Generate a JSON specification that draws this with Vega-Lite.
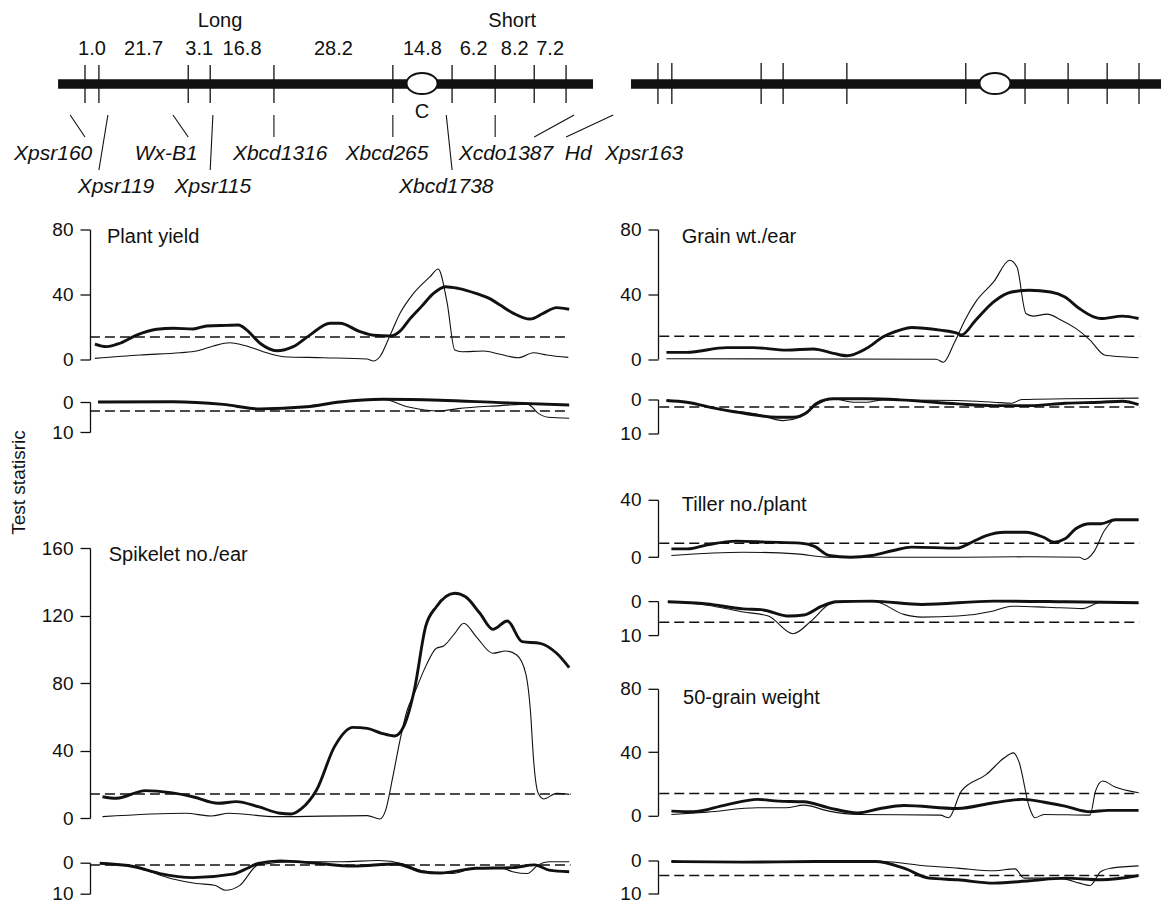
{
  "$schema": "https://vega.github.io/schema/vega-lite/v6.json",
  "background": "white",
  "padding": 0,
  "config": {
    "view": {"stroke": null},
    "font": "Liberation Sans",
    "axis": {"domainColor": "#111", "tickColor": "#111", "domainWidth": 1.3, "tickWidth": 1.3, "tickSize": 10, "labelPadding": 7, "labelFontSize": 19, "labelColor": "#111", "labelFont": "Liberation Sans", "grid": false, "labelOverlap": false, "labelBound": false},
    "text": {"font": "Liberation Sans", "color": "#111"}
  },
  "datasets": {
    "chromosome": [{"start": -6.0, "end": 113.2, "centromere": 75.1}],
    "markers": [
      {"marker": "Xpsr160", "pos": 0, "tier": 1, "label_pos": -7.1, "link": -3.3},
      {"marker": "Xpsr119", "pos": 3.1, "tier": 2, "label_pos": 6.9, "link": 5.1},
      {"marker": "Wx-B1", "pos": 23.0, "tier": 1, "label_pos": 18.1, "link": 19.6},
      {"marker": "Xpsr115", "pos": 27.9, "tier": 2, "label_pos": 28.5, "link": 28.5},
      {"marker": "Xbcd1316", "pos": 42.1, "tier": 1, "label_pos": 43.5, "link": 42.1},
      {"marker": "Xbcd265", "pos": 68.6, "tier": 1, "label_pos": 67.3, "link": 68.6},
      {"marker": "Xbcd1738", "pos": 81.8, "tier": 2, "label_pos": 80.5, "link": 80.5},
      {"marker": "Xcdo1387", "pos": 91.4, "tier": 1, "label_pos": 93.8, "link": 91.4},
      {"marker": "Hd", "pos": 100.1, "tier": 1, "label_pos": 109.9, "link": 109.0},
      {"marker": "Xpsr163", "pos": 107.2, "tier": 1, "label_pos": 124.6, "link": 117.7}
    ],
    "intervals": [
      {"cM": "1.0", "from": 0, "to": 3.1},
      {"cM": "21.7", "from": 3.1, "to": 23.0},
      {"cM": "3.1", "from": 23.0, "to": 27.9},
      {"cM": "16.8", "from": 27.9, "to": 42.1},
      {"cM": "28.2", "from": 42.1, "to": 68.6},
      {"cM": "14.8", "from": 68.6, "to": 81.8},
      {"cM": "6.2", "from": 81.8, "to": 91.4},
      {"cM": "8.2", "from": 91.4, "to": 100.1},
      {"cM": "7.2", "from": 100.1, "to": 107.2}
    ],
    "arms": [{"arm": "Long", "center": 30.1}, {"arm": "Short", "center": 95.2}],
    "thresholds": [
      {"panel": "plant_yield_upper", "stat": 13.8, "from": 1.1, "to": 107.9},
      {"panel": "plant_yield_lower", "stat": 3.0, "from": 1.1, "to": 107.9},
      {"panel": "spikelet_upper", "stat": 14.2, "from": 1.1, "to": 108.2},
      {"panel": "spikelet_lower", "stat": 0.75, "from": 1.1, "to": 108.2},
      {"panel": "grain_wt_upper", "stat": 14.0, "from": 0.3, "to": 107.3},
      {"panel": "grain_wt_lower", "stat": 2.2, "from": 0.3, "to": 107.3},
      {"panel": "tiller_upper", "stat": 9.8, "from": 0.3, "to": 107.3},
      {"panel": "tiller_lower", "stat": 6.2, "from": 0.3, "to": 107.3},
      {"panel": "grain50_upper", "stat": 13.9, "from": 0.3, "to": 107.3},
      {"panel": "grain50_lower", "stat": 4.5, "from": 0.3, "to": 107.3}
    ],
    "plant_yield_upper": [
      {"curve": "A", "pos": 2.2, "stat": 9.5}, {"curve": "A", "pos": 4.8, "stat": 7.9}, {"curve": "A", "pos": 7.8, "stat": 10}, {"curve": "A", "pos": 11.5, "stat": 15}, {"curve": "A", "pos": 16.0, "stat": 18.6}, {"curve": "A", "pos": 19.7, "stat": 19.2}, {"curve": "A", "pos": 24.1, "stat": 18.8}, {"curve": "A", "pos": 27.1, "stat": 20.6}, {"curve": "A", "pos": 31.6, "stat": 21}, {"curve": "A", "pos": 34.2, "stat": 21.2}, {"curve": "A", "pos": 36.0, "stat": 18.2}, {"curve": "A", "pos": 39.0, "stat": 10}, {"curve": "A", "pos": 42.7, "stat": 5.4}, {"curve": "A", "pos": 46.4, "stat": 7.9}, {"curve": "A", "pos": 50.1, "stat": 15}, {"curve": "A", "pos": 54.6, "stat": 22.3}, {"curve": "A", "pos": 56.8, "stat": 22.3}, {"curve": "A", "pos": 61.3, "stat": 17.1}, {"curve": "A", "pos": 64.3, "stat": 14.9}, {"curve": "A", "pos": 68.0, "stat": 14.5}, {"curve": "A", "pos": 70.2, "stat": 17.5}, {"curve": "A", "pos": 72.4, "stat": 25}, {"curve": "A", "pos": 75.1, "stat": 33}, {"curve": "A", "pos": 77.6, "stat": 40.5}, {"curve": "A", "pos": 80.3, "stat": 44.8}, {"curve": "A", "pos": 83.1, "stat": 43.8}, {"curve": "A", "pos": 87.1, "stat": 40.7}, {"curve": "A", "pos": 90.5, "stat": 37}, {"curve": "A", "pos": 92.5, "stat": 33.5}, {"curve": "A", "pos": 95.5, "stat": 28.4}, {"curve": "A", "pos": 99.2, "stat": 24.9}, {"curve": "A", "pos": 102.1, "stat": 28.4}, {"curve": "A", "pos": 105.1, "stat": 31.9}, {"curve": "A", "pos": 107.9, "stat": 30.9},
      {"curve": "B", "pos": 2.2, "stat": 0.7}, {"curve": "B", "pos": 12.3, "stat": 2.8}, {"curve": "B", "pos": 21.2, "stat": 4.2}, {"curve": "B", "pos": 24.9, "stat": 5.2}, {"curve": "B", "pos": 28.6, "stat": 8.3}, {"curve": "B", "pos": 32.3, "stat": 10.3}, {"curve": "B", "pos": 36.0, "stat": 8.3}, {"curve": "B", "pos": 39.7, "stat": 4.8}, {"curve": "B", "pos": 44.2, "stat": 1.7}, {"curve": "B", "pos": 53.1, "stat": 1.1}, {"curve": "B", "pos": 62.8, "stat": 0.3}, {"curve": "B", "pos": 64.3, "stat": -0.9}, {"curve": "B", "pos": 65.7, "stat": 1.7}, {"curve": "B", "pos": 68.0, "stat": 15}, {"curve": "B", "pos": 70.2, "stat": 28.4}, {"curve": "B", "pos": 73.2, "stat": 40.7}, {"curve": "B", "pos": 76.9, "stat": 51}, {"curve": "B", "pos": 78.7, "stat": 55.7}, {"curve": "B", "pos": 80.7, "stat": 34.8}, {"curve": "B", "pos": 82.4, "stat": 5.8}, {"curve": "B", "pos": 84.0, "stat": 4.8}, {"curve": "B", "pos": 88.8, "stat": 5.2}, {"curve": "B", "pos": 92.5, "stat": 3.2}, {"curve": "B", "pos": 96.6, "stat": 1.1}, {"curve": "B", "pos": 99.9, "stat": 4.2}, {"curve": "B", "pos": 102.9, "stat": 2.8}, {"curve": "B", "pos": 107.7, "stat": 1.3}
    ],
    "plant_yield_lower": [
      {"curve": "A", "pos": 2.9, "stat": 0}, {"curve": "A", "pos": 19.6, "stat": -0.1}, {"curve": "A", "pos": 30.8, "stat": 0.8}, {"curve": "A", "pos": 39.0, "stat": 2.3}, {"curve": "A", "pos": 49.4, "stat": 1.6}, {"curve": "A", "pos": 56.8, "stat": 0}, {"curve": "A", "pos": 66.4, "stat": -0.9}, {"curve": "A", "pos": 79.1, "stat": -0.6}, {"curve": "A", "pos": 92.5, "stat": 0.2}, {"curve": "A", "pos": 107.9, "stat": 1.0},
      {"curve": "B", "pos": 2.9, "stat": 0}, {"curve": "B", "pos": 19.6, "stat": 0}, {"curve": "B", "pos": 30.8, "stat": 0.8}, {"curve": "B", "pos": 39.0, "stat": 2.3}, {"curve": "B", "pos": 49.4, "stat": 1.6}, {"curve": "B", "pos": 56.8, "stat": 0}, {"curve": "B", "pos": 66.4, "stat": -0.9}, {"curve": "B", "pos": 71.8, "stat": 1.6}, {"curve": "B", "pos": 79.1, "stat": 3.0}, {"curve": "B", "pos": 83.1, "stat": 2.2}, {"curve": "B", "pos": 92.5, "stat": 1.2}, {"curve": "B", "pos": 96.9, "stat": 0.8}, {"curve": "B", "pos": 98.7, "stat": 0.8}, {"curve": "B", "pos": 101.0, "stat": 3.8}, {"curve": "B", "pos": 103.2, "stat": 5.1}, {"curve": "B", "pos": 107.9, "stat": 5.4}
    ],
    "spikelet_upper": [
      {"curve": "A", "pos": 3.9, "stat": 12.6}, {"curve": "A", "pos": 7.0, "stat": 11.7}, {"curve": "A", "pos": 13.5, "stat": 16.2}, {"curve": "A", "pos": 19.1, "stat": 15}, {"curve": "A", "pos": 24.0, "stat": 12.6}, {"curve": "A", "pos": 29.7, "stat": 8.7}, {"curve": "A", "pos": 33.7, "stat": 9.7}, {"curve": "A", "pos": 38.6, "stat": 6.7}, {"curve": "A", "pos": 43.5, "stat": 2.8}, {"curve": "A", "pos": 45.9, "stat": 2.4}, {"curve": "A", "pos": 48.3, "stat": 5.7}, {"curve": "A", "pos": 51.6, "stat": 16.6}, {"curve": "A", "pos": 55.6, "stat": 42.3}, {"curve": "A", "pos": 59.7, "stat": 53.7}, {"curve": "A", "pos": 62.9, "stat": 53.1}, {"curve": "A", "pos": 66.1, "stat": 50.2}, {"curve": "A", "pos": 69.0, "stat": 48.6}, {"curve": "A", "pos": 71.0, "stat": 54.1}, {"curve": "A", "pos": 73.4, "stat": 76}, {"curve": "A", "pos": 75.9, "stat": 113.4}, {"curve": "A", "pos": 78.3, "stat": 125.2}, {"curve": "A", "pos": 82.4, "stat": 133.2}, {"curve": "A", "pos": 84.8, "stat": 131.1}, {"curve": "A", "pos": 88.0, "stat": 121.3}, {"curve": "A", "pos": 90.9, "stat": 111.8}, {"curve": "A", "pos": 94.1, "stat": 116.7}, {"curve": "A", "pos": 97.4, "stat": 104.5}, {"curve": "A", "pos": 101.4, "stat": 103.5}, {"curve": "A", "pos": 105.1, "stat": 97.6}, {"curve": "A", "pos": 107.9, "stat": 89.1},
      {"curve": "B", "pos": 3.9, "stat": 0.8}, {"curve": "B", "pos": 22.4, "stat": 2.8}, {"curve": "B", "pos": 28.1, "stat": 1.2}, {"curve": "B", "pos": 32.1, "stat": 2.8}, {"curve": "B", "pos": 42.7, "stat": 0.8}, {"curve": "B", "pos": 62.9, "stat": 1.4}, {"curve": "B", "pos": 65.7, "stat": -0.6}, {"curve": "B", "pos": 67.0, "stat": 4.7}, {"curve": "B", "pos": 68.6, "stat": 24.5}, {"curve": "B", "pos": 70.2, "stat": 46.2}, {"curve": "B", "pos": 71.8, "stat": 64}, {"curve": "B", "pos": 73.4, "stat": 73.9}, {"curve": "B", "pos": 75.9, "stat": 89.7}, {"curve": "B", "pos": 78.3, "stat": 100.6}, {"curve": "B", "pos": 79.9, "stat": 101.9}, {"curve": "B", "pos": 82.4, "stat": 109.4}, {"curve": "B", "pos": 84.4, "stat": 115.4}, {"curve": "B", "pos": 87.2, "stat": 107.4}, {"curve": "B", "pos": 90.9, "stat": 97.6}, {"curve": "B", "pos": 93.7, "stat": 99}, {"curve": "B", "pos": 96.2, "stat": 96.6}, {"curve": "B", "pos": 98.2, "stat": 85.7}, {"curve": "B", "pos": 99.4, "stat": 58.1}, {"curve": "B", "pos": 99.8, "stat": 40.3}, {"curve": "B", "pos": 101.0, "stat": 14.6}, {"curve": "B", "pos": 102.2, "stat": 11.3}, {"curve": "B", "pos": 105.1, "stat": 14.6}, {"curve": "B", "pos": 107.9, "stat": 14}
    ],
    "spikelet_lower": [
      {"curve": "A", "pos": 3.3, "stat": 0.2}, {"curve": "A", "pos": 11.0, "stat": 1.3}, {"curve": "A", "pos": 16.7, "stat": 3.5}, {"curve": "A", "pos": 24.0, "stat": 4.8}, {"curve": "A", "pos": 32.9, "stat": 3.7}, {"curve": "A", "pos": 36.2, "stat": 1.8}, {"curve": "A", "pos": 38.6, "stat": 0.2}, {"curve": "A", "pos": 43.5, "stat": -0.6}, {"curve": "A", "pos": 51.6, "stat": 0.2}, {"curve": "A", "pos": 59.7, "stat": 1.1}, {"curve": "A", "pos": 69.4, "stat": 0.4}, {"curve": "A", "pos": 75.1, "stat": 2.9}, {"curve": "A", "pos": 79.1, "stat": 3.3}, {"curve": "A", "pos": 87.2, "stat": 1.8}, {"curve": "A", "pos": 95.3, "stat": 1.6}, {"curve": "A", "pos": 100.2, "stat": 0.7}, {"curve": "A", "pos": 103.4, "stat": 2.4}, {"curve": "A", "pos": 107.9, "stat": 2.9},
      {"curve": "B", "pos": 3.3, "stat": 0}, {"curve": "B", "pos": 11.0, "stat": 1.3}, {"curve": "B", "pos": 19.1, "stat": 5.1}, {"curve": "B", "pos": 24.8, "stat": 6.7}, {"curve": "B", "pos": 28.9, "stat": 7.3}, {"curve": "B", "pos": 31.3, "stat": 8.9}, {"curve": "B", "pos": 34.5, "stat": 7.3}, {"curve": "B", "pos": 38.6, "stat": 0.7}, {"curve": "B", "pos": 46.7, "stat": -0.3}, {"curve": "B", "pos": 57.2, "stat": -0.3}, {"curve": "B", "pos": 65.3, "stat": -0.7}, {"curve": "B", "pos": 71.0, "stat": 0.4}, {"curve": "B", "pos": 75.1, "stat": 2.6}, {"curve": "B", "pos": 81.5, "stat": 3.5}, {"curve": "B", "pos": 87.2, "stat": 1.8}, {"curve": "B", "pos": 92.9, "stat": 1.8}, {"curve": "B", "pos": 95.3, "stat": 2.9}, {"curve": "B", "pos": 98.6, "stat": 3.5}, {"curve": "B", "pos": 101.0, "stat": 0.7}, {"curve": "B", "pos": 103.4, "stat": -0.3}, {"curve": "B", "pos": 107.9, "stat": -0.3}
    ],
    "grain_wt_upper": [
      {"curve": "A", "pos": 1.9, "stat": 4.1}, {"curve": "A", "pos": 6.4, "stat": 4.1}, {"curve": "A", "pos": 15.3, "stat": 7.0}, {"curve": "A", "pos": 21.2, "stat": 7.0}, {"curve": "A", "pos": 28.7, "stat": 5.5}, {"curve": "A", "pos": 34.6, "stat": 6.2}, {"curve": "A", "pos": 39.1, "stat": 3.5}, {"curve": "A", "pos": 42.1, "stat": 2.0}, {"curve": "A", "pos": 46.5, "stat": 6.6}, {"curve": "A", "pos": 50.2, "stat": 13.7}, {"curve": "A", "pos": 53.9, "stat": 17.8}, {"curve": "A", "pos": 56.5, "stat": 19.5}, {"curve": "A", "pos": 62.9, "stat": 17.8}, {"curve": "A", "pos": 66.8, "stat": 15.8}, {"curve": "A", "pos": 67.6, "stat": 14.8}, {"curve": "A", "pos": 70.8, "stat": 24}, {"curve": "A", "pos": 74.8, "stat": 35.3}, {"curve": "A", "pos": 78.8, "stat": 41.4}, {"curve": "A", "pos": 82.8, "stat": 42.5}, {"curve": "A", "pos": 87.5, "stat": 41.4}, {"curve": "A", "pos": 90.7, "stat": 38.3}, {"curve": "A", "pos": 93.9, "stat": 31.2}, {"curve": "A", "pos": 97.1, "stat": 26}, {"curve": "A", "pos": 98.7, "stat": 25}, {"curve": "A", "pos": 103.5, "stat": 26.5}, {"curve": "A", "pos": 107.1, "stat": 25},
      {"curve": "B", "pos": 1.9, "stat": 0.2}, {"curve": "B", "pos": 62.0, "stat": -0.2}, {"curve": "B", "pos": 63.6, "stat": -2}, {"curve": "B", "pos": 66.0, "stat": 9.7}, {"curve": "B", "pos": 68.4, "stat": 24}, {"curve": "B", "pos": 70.8, "stat": 35.3}, {"curve": "B", "pos": 74.8, "stat": 47.6}, {"curve": "B", "pos": 78.4, "stat": 61}, {"curve": "B", "pos": 80.0, "stat": 56.8}, {"curve": "B", "pos": 82.0, "stat": 28.1}, {"curve": "B", "pos": 83.6, "stat": 26.5}, {"curve": "B", "pos": 86.7, "stat": 27.7}, {"curve": "B", "pos": 89.9, "stat": 24}, {"curve": "B", "pos": 93.1, "stat": 18.9}, {"curve": "B", "pos": 96.3, "stat": 11.7}, {"curve": "B", "pos": 99.5, "stat": 2.5}, {"curve": "B", "pos": 103.5, "stat": 1.4}, {"curve": "B", "pos": 107.1, "stat": 0.8}
    ],
    "grain_wt_lower": [
      {"curve": "A", "pos": 1.9, "stat": 0.3}, {"curve": "A", "pos": 6.4, "stat": 0.8}, {"curve": "A", "pos": 13.1, "stat": 2.7}, {"curve": "A", "pos": 19.8, "stat": 4.2}, {"curve": "A", "pos": 26.5, "stat": 5.2}, {"curve": "A", "pos": 30.2, "stat": 5.2}, {"curve": "A", "pos": 33.1, "stat": 3.9}, {"curve": "A", "pos": 35.4, "stat": 1.1}, {"curve": "A", "pos": 39.1, "stat": -0.2}, {"curve": "A", "pos": 46.5, "stat": -0.2}, {"curve": "A", "pos": 53.9, "stat": 0.1}, {"curve": "A", "pos": 66.8, "stat": 1.3}, {"curve": "A", "pos": 74.8, "stat": 1.8}, {"curve": "A", "pos": 82.8, "stat": 1.8}, {"curve": "A", "pos": 90.7, "stat": 1.1}, {"curve": "A", "pos": 98.7, "stat": 0.8}, {"curve": "A", "pos": 103.5, "stat": 0.5}, {"curve": "A", "pos": 107.1, "stat": 1.5},
      {"curve": "B", "pos": 1.9, "stat": 0.3}, {"curve": "B", "pos": 6.4, "stat": 0.8}, {"curve": "B", "pos": 13.1, "stat": 2.7}, {"curve": "B", "pos": 22.7, "stat": 4.5}, {"curve": "B", "pos": 27.9, "stat": 6.2}, {"curve": "B", "pos": 31.6, "stat": 5.2}, {"curve": "B", "pos": 34.5, "stat": 2.3}, {"curve": "B", "pos": 39.1, "stat": -0.2}, {"curve": "B", "pos": 43.5, "stat": 0.8}, {"curve": "B", "pos": 46.5, "stat": 0.8}, {"curve": "B", "pos": 50.2, "stat": 0.1}, {"curve": "B", "pos": 66.8, "stat": 0.3}, {"curve": "B", "pos": 74.8, "stat": 0.8}, {"curve": "B", "pos": 78.8, "stat": 1.1}, {"curve": "B", "pos": 81.1, "stat": 0}, {"curve": "B", "pos": 90.7, "stat": -0.2}, {"curve": "B", "pos": 107.1, "stat": -0.4}
    ],
    "tiller_upper": [
      {"curve": "A", "pos": 3.0, "stat": 5.8}, {"curve": "A", "pos": 6.6, "stat": 5.8}, {"curve": "A", "pos": 11.0, "stat": 8.6}, {"curve": "A", "pos": 17.4, "stat": 11.2}, {"curve": "A", "pos": 24.6, "stat": 10.5}, {"curve": "A", "pos": 31.7, "stat": 9.8}, {"curve": "A", "pos": 34.9, "stat": 7.5}, {"curve": "A", "pos": 38.1, "stat": 1.2}, {"curve": "A", "pos": 42.9, "stat": 0}, {"curve": "A", "pos": 47.7, "stat": 1.2}, {"curve": "A", "pos": 52.5, "stat": 4.7}, {"curve": "A", "pos": 56.5, "stat": 7.0}, {"curve": "A", "pos": 66.8, "stat": 6.3}, {"curve": "A", "pos": 69.2, "stat": 9.3}, {"curve": "A", "pos": 73.2, "stat": 15.1}, {"curve": "A", "pos": 77.2, "stat": 17.4}, {"curve": "A", "pos": 82.0, "stat": 17.4}, {"curve": "A", "pos": 85.9, "stat": 13.9}, {"curve": "A", "pos": 88.3, "stat": 10.5}, {"curve": "A", "pos": 90.7, "stat": 12.8}, {"curve": "A", "pos": 93.1, "stat": 19.8}, {"curve": "A", "pos": 96.3, "stat": 23.3}, {"curve": "A", "pos": 98.7, "stat": 23.3}, {"curve": "A", "pos": 101.9, "stat": 26.1}, {"curve": "A", "pos": 107.1, "stat": 26.1},
      {"curve": "B", "pos": 3.0, "stat": 1.2}, {"curve": "B", "pos": 19.0, "stat": 3.5}, {"curve": "B", "pos": 30.9, "stat": 2.3}, {"curve": "B", "pos": 38.1, "stat": 0}, {"curve": "B", "pos": 66.8, "stat": 0}, {"curve": "B", "pos": 82.8, "stat": 0.3}, {"curve": "B", "pos": 93.9, "stat": 0}, {"curve": "B", "pos": 95.1, "stat": -1.6}, {"curve": "B", "pos": 97.1, "stat": 3.5}, {"curve": "B", "pos": 99.5, "stat": 18.6}, {"curve": "B", "pos": 101.9, "stat": 26.1}, {"curve": "B", "pos": 107.1, "stat": 26.1}
    ],
    "tiller_lower": [
      {"curve": "A", "pos": 2.2, "stat": 0.2}, {"curve": "A", "pos": 11.0, "stat": 0.8}, {"curve": "A", "pos": 19.0, "stat": 2.3}, {"curve": "A", "pos": 23.0, "stat": 2.5}, {"curve": "A", "pos": 29.3, "stat": 4.4}, {"curve": "A", "pos": 32.5, "stat": 4.1}, {"curve": "A", "pos": 36.5, "stat": 1.5}, {"curve": "A", "pos": 39.7, "stat": 0.2}, {"curve": "A", "pos": 47.7, "stat": 0}, {"curve": "A", "pos": 58.8, "stat": 1.0}, {"curve": "A", "pos": 74.8, "stat": 0}, {"curve": "A", "pos": 90.7, "stat": 0.2}, {"curve": "A", "pos": 107.1, "stat": 0.5},
      {"curve": "B", "pos": 2.2, "stat": 0.2}, {"curve": "B", "pos": 11.0, "stat": 1.2}, {"curve": "B", "pos": 19.0, "stat": 3.2}, {"curve": "B", "pos": 24.6, "stat": 4.4}, {"curve": "B", "pos": 30.1, "stat": 9.6}, {"curve": "B", "pos": 34.1, "stat": 5.9}, {"curve": "B", "pos": 38.1, "stat": 1.0}, {"curve": "B", "pos": 41.3, "stat": 0}, {"curve": "B", "pos": 48.4, "stat": 0.2}, {"curve": "B", "pos": 54.8, "stat": 3.9}, {"curve": "B", "pos": 58.8, "stat": 4.7}, {"curve": "B", "pos": 66.8, "stat": 4.4}, {"curve": "B", "pos": 74.8, "stat": 2.9}, {"curve": "B", "pos": 78.8, "stat": 1.5}, {"curve": "B", "pos": 86.7, "stat": 1.8}, {"curve": "B", "pos": 94.7, "stat": 2.2}, {"curve": "B", "pos": 97.1, "stat": 1.0}, {"curve": "B", "pos": 98.7, "stat": 0.3}, {"curve": "B", "pos": 107.1, "stat": 0.5}
    ],
    "grain50_upper": [
      {"curve": "A", "pos": 3.0, "stat": 2.7}, {"curve": "A", "pos": 7.8, "stat": 2.3}, {"curve": "A", "pos": 15.0, "stat": 6.5}, {"curve": "A", "pos": 22.2, "stat": 10.1}, {"curve": "A", "pos": 26.9, "stat": 9.0}, {"curve": "A", "pos": 32.5, "stat": 8.6}, {"curve": "A", "pos": 38.1, "stat": 4.8}, {"curve": "A", "pos": 44.5, "stat": 1.6}, {"curve": "A", "pos": 49.3, "stat": 4.2}, {"curve": "A", "pos": 54.8, "stat": 6.3}, {"curve": "A", "pos": 66.8, "stat": 4.4}, {"curve": "A", "pos": 74.8, "stat": 8.0}, {"curve": "A", "pos": 81.2, "stat": 10.1}, {"curve": "A", "pos": 86.7, "stat": 8.0}, {"curve": "A", "pos": 90.7, "stat": 5.9}, {"curve": "A", "pos": 96.3, "stat": 2.3}, {"curve": "A", "pos": 100.3, "stat": 3.2}, {"curve": "A", "pos": 107.1, "stat": 3.2},
      {"curve": "B", "pos": 3.0, "stat": 0.6}, {"curve": "B", "pos": 11.0, "stat": 2.1}, {"curve": "B", "pos": 22.2, "stat": 4.8}, {"curve": "B", "pos": 28.5, "stat": 4.8}, {"curve": "B", "pos": 32.5, "stat": 6.5}, {"curve": "B", "pos": 38.1, "stat": 2.7}, {"curve": "B", "pos": 44.5, "stat": 0.6}, {"curve": "B", "pos": 62.9, "stat": 0.2}, {"curve": "B", "pos": 64.8, "stat": -1.5}, {"curve": "B", "pos": 67.6, "stat": 15.3}, {"curve": "B", "pos": 73.2, "stat": 25.9}, {"curve": "B", "pos": 77.2, "stat": 36.4}, {"curve": "B", "pos": 79.2, "stat": 39.5}, {"curve": "B", "pos": 80.4, "stat": 34.3}, {"curve": "B", "pos": 82.8, "stat": 4.8}, {"curve": "B", "pos": 84.0, "stat": -1.5}, {"curve": "B", "pos": 86.0, "stat": 0.6}, {"curve": "B", "pos": 96.3, "stat": 0.2}, {"curve": "B", "pos": 97.5, "stat": 15.3}, {"curve": "B", "pos": 99.1, "stat": 21.7}, {"curve": "B", "pos": 101.9, "stat": 17.9}, {"curve": "B", "pos": 107.1, "stat": 14.3}
    ],
    "grain50_lower": [
      {"curve": "A", "pos": 3.0, "stat": 0.3}, {"curve": "A", "pos": 19.0, "stat": 0.5}, {"curve": "A", "pos": 34.9, "stat": 0.3}, {"curve": "A", "pos": 48.5, "stat": 0.3}, {"curve": "A", "pos": 54.8, "stat": 2.3}, {"curve": "A", "pos": 60.4, "stat": 5.3}, {"curve": "A", "pos": 66.8, "stat": 5.8}, {"curve": "A", "pos": 74.8, "stat": 6.8}, {"curve": "A", "pos": 82.8, "stat": 6.1}, {"curve": "A", "pos": 90.7, "stat": 5.3}, {"curve": "A", "pos": 98.7, "stat": 5.8}, {"curve": "A", "pos": 107.1, "stat": 4.5},
      {"curve": "B", "pos": 3.0, "stat": 0.3}, {"curve": "B", "pos": 19.0, "stat": 0.5}, {"curve": "B", "pos": 34.9, "stat": 0.3}, {"curve": "B", "pos": 50.1, "stat": 0.3}, {"curve": "B", "pos": 58.8, "stat": 1.5}, {"curve": "B", "pos": 66.8, "stat": 2.3}, {"curve": "B", "pos": 74.8, "stat": 3.1}, {"curve": "B", "pos": 79.6, "stat": 2.5}, {"curve": "B", "pos": 81.6, "stat": 5.3}, {"curve": "B", "pos": 86.7, "stat": 5.3}, {"curve": "B", "pos": 90.7, "stat": 5.6}, {"curve": "B", "pos": 93.9, "stat": 6.8}, {"curve": "B", "pos": 96.3, "stat": 7.5}, {"curve": "B", "pos": 98.7, "stat": 3.3}, {"curve": "B", "pos": 101.1, "stat": 2.3}, {"curve": "B", "pos": 107.1, "stat": 1.6}
    ]
  },
  "vconcat": [
    {
      "hconcat": [
        {
          "width": 593, "height": 200,
          "layer": [
            {"data": {"name": "chromosome"}, "mark": {"type": "rule", "strokeWidth": 9.3, "color": "#111", "strokeCap": "butt"},
             "encoding": {"x": {"field": "start", "type": "quantitative", "scale": {"domain": [-18.94, 113.2], "nice": false, "zero": false}, "axis": null}, "x2": {"field": "end"}, "y": {"datum": 8.4, "type": "quantitative", "scale": {"domain": [0, 20], "reverse": true, "nice": false, "zero": false}, "axis": null}}},
            {"data": {"name": "markers"}, "mark": {"type": "rule", "strokeWidth": 1.3, "color": "#111"},
             "encoding": {"x": {"field": "pos", "type": "quantitative"}, "y": {"datum": 6.5, "type": "quantitative"}, "y2": {"datum": 10.3}}},
            {"data": {"name": "chromosome"}, "mark": {"type": "point", "shape": "M-1,0A1,0.68,0,1,1,1,0A1,0.68,0,1,1,-1,0Z", "size": 961, "filled": true, "fill": "white", "stroke": "#111", "strokeWidth": 2, "opacity": 1},
             "encoding": {"x": {"field": "centromere", "type": "quantitative"}, "y": {"datum": 8.35, "type": "quantitative"}}},
            {"data": {"name": "chromosome"}, "mark": {"type": "text", "fontSize": 20, "baseline": "middle", "align": "center"},
             "encoding": {"x": {"field": "centromere", "type": "quantitative"}, "y": {"datum": 11.2, "type": "quantitative"}, "text": {"value": "C"}}},
            {"data": {"name": "intervals"}, "transform": [{"calculate": "(datum.from + datum.to) / 2", "as": "mid"}], "mark": {"type": "text", "fontSize": 20, "baseline": "alphabetic", "align": "center"},
             "encoding": {"x": {"field": "mid", "type": "quantitative"}, "y": {"datum": 5.5, "type": "quantitative"}, "text": {"field": "cM", "type": "nominal"}}},
            {"data": {"name": "arms"}, "mark": {"type": "text", "fontSize": 20, "baseline": "alphabetic", "align": "center"},
             "encoding": {"x": {"field": "center", "type": "quantitative"}, "y": {"datum": 2.7, "type": "quantitative"}, "text": {"field": "arm", "type": "nominal"}}},
            {"data": {"name": "markers"}, "transform": [{"calculate": "datum.tier === 1 ? 13.7 : 17.0", "as": "leader_end"}], "mark": {"type": "rule", "strokeWidth": 1.1, "color": "#111"},
             "encoding": {"x": {"field": "pos", "type": "quantitative"}, "x2": {"field": "link"}, "y": {"field": "leader_end", "type": "quantitative"}, "y2": {"datum": 11.5}}},
            {"data": {"name": "markers"}, "transform": [{"calculate": "datum.tier === 1 ? 16.0 : 19.3", "as": "label_level"}], "mark": {"type": "text", "fontSize": 21, "fontStyle": "italic", "baseline": "alphabetic", "align": "center"},
             "encoding": {"x": {"field": "label_pos", "type": "quantitative"}, "y": {"field": "label_level", "type": "quantitative"}, "text": {"field": "marker", "type": "nominal"}}}
          ]
        },
        {
          "width": 530, "height": 200,
          "layer": [
            {"data": {"name": "chromosome"}, "mark": {"type": "rule", "strokeWidth": 9.3, "color": "#111", "strokeCap": "butt", "clip": true},
             "encoding": {"x": {"field": "start", "type": "quantitative", "scale": {"domain": [-6.0, 112.1], "nice": false, "zero": false}, "axis": null}, "x2": {"field": "end"}, "y": {"datum": 8.4, "type": "quantitative", "scale": {"domain": [0, 20], "reverse": true, "nice": false, "zero": false}, "axis": null}}},
            {"data": {"name": "markers"}, "mark": {"type": "rule", "strokeWidth": 1.3, "color": "#111"},
             "encoding": {"x": {"field": "pos", "type": "quantitative"}, "y": {"datum": 6.3, "type": "quantitative"}, "y2": {"datum": 10.4}}},
            {"data": {"name": "chromosome"}, "mark": {"type": "point", "shape": "M-1,0A1,0.68,0,1,1,1,0A1,0.68,0,1,1,-1,0Z", "size": 961, "filled": true, "fill": "white", "stroke": "#111", "strokeWidth": 2, "opacity": 1},
             "encoding": {"x": {"field": "centromere", "type": "quantitative"}, "y": {"datum": 8.35, "type": "quantitative"}}}
          ]
        }
      ],
      "spacing": 38, "bounds": "flush"
    },
    {
      "hconcat": [
        {
          "vconcat": [
            {
              "width": 593, "height": 130,
              "layer": [
                {"data": {"name": "plant_yield_upper"}, "mark": {"type": "line", "interpolate": "monotone", "color": "#111"},
                 "encoding": {"x": {"field": "pos", "type": "quantitative", "scale": {"domain": [-18.94, 113.2], "nice": false, "zero": false}, "axis": null},
                   "y": {"field": "stat", "type": "quantitative", "scale": {"domain": [0, 80], "nice": false, "zero": false}, "axis": {"values": [0, 40, 80], "offset": -90, "title": null}},
                   "strokeWidth": {"field": "curve", "type": "nominal", "scale": {"domain": ["A", "B"], "range": [2.9, 1.1]}, "legend": null}}},
                {"data": {"name": "thresholds"}, "transform": [{"filter": "datum.panel === 'plant_yield_upper'"}], "mark": {"type": "rule", "color": "#111", "strokeWidth": 1.5, "strokeDash": [10, 5]},
                 "encoding": {"x": {"field": "from", "type": "quantitative"}, "x2": {"field": "to"}, "y": {"field": "stat", "type": "quantitative"}}},
                {"data": {"values": [{"trait": "Plant yield"}]}, "mark": {"type": "text", "align": "left", "baseline": "alphabetic", "fontSize": 20},
                 "encoding": {"x": {"datum": 4.9, "type": "quantitative"}, "y": {"datum": 71.7, "type": "quantitative"}, "text": {"field": "trait", "type": "nominal"}}}
              ]
            },
            {
              "vconcat": [
                {
                  "width": 593, "height": 30,
                  "layer": [
                    {"data": {"name": "plant_yield_lower"}, "mark": {"type": "line", "interpolate": "monotone", "color": "#111"},
                     "encoding": {"x": {"field": "pos", "type": "quantitative", "scale": {"domain": [-18.94, 113.2], "nice": false, "zero": false}, "axis": null},
                       "y": {"field": "stat", "type": "quantitative", "scale": {"domain": [0, 10], "reverse": true, "nice": false, "zero": false}, "axis": {"values": [0, 10], "offset": -90, "title": null}},
                       "strokeWidth": {"field": "curve", "type": "nominal", "scale": {"domain": ["A", "B"], "range": [2.9, 1.1]}, "legend": null}}},
                    {"data": {"name": "thresholds"}, "transform": [{"filter": "datum.panel === 'plant_yield_lower'"}], "mark": {"type": "rule", "color": "#111", "strokeWidth": 1.5, "strokeDash": [10, 5]},
                     "encoding": {"x": {"field": "from", "type": "quantitative"}, "x2": {"field": "to"}, "y": {"field": "stat", "type": "quantitative"}}}
                  ]
                },
                {
                  "vconcat": [
                    {
                      "width": 593, "height": 270,
                      "layer": [
                        {"data": {"name": "spikelet_upper"}, "mark": {"type": "line", "interpolate": "monotone", "color": "#111"},
                         "encoding": {"x": {"field": "pos", "type": "quantitative", "scale": {"domain": [-18.94, 113.2], "nice": false, "zero": false}, "axis": null},
                           "y": {"field": "stat", "type": "quantitative", "scale": {"domain": [0, 160], "nice": false, "zero": false}, "axis": {"values": [0, 40, 80, 120, 160], "offset": -90, "title": "Test statisric", "titleX": -71.5, "titleY": -66, "titleAngle": -90, "titleAlign": "center", "titleBaseline": "middle", "titleFontSize": 19, "titleFontWeight": "normal", "titleColor": "#111", "titleFont": "Liberation Sans"}},
                           "strokeWidth": {"field": "curve", "type": "nominal", "scale": {"domain": ["A", "B"], "range": [2.9, 1.1]}, "legend": null}}},
                        {"data": {"name": "thresholds"}, "transform": [{"filter": "datum.panel === 'spikelet_upper'"}], "mark": {"type": "rule", "color": "#111", "strokeWidth": 1.5, "strokeDash": [10, 5]},
                         "encoding": {"x": {"field": "from", "type": "quantitative"}, "x2": {"field": "to"}, "y": {"field": "stat", "type": "quantitative"}}},
                        {"data": {"values": [{"trait": "Spikelet no./ear"}]}, "mark": {"type": "text", "align": "left", "baseline": "alphabetic", "fontSize": 20},
                         "encoding": {"x": {"datum": 5.3, "type": "quantitative"}, "y": {"datum": 152.3, "type": "quantitative"}, "text": {"field": "trait", "type": "nominal"}}}
                      ]
                    },
                    {
                      "width": 593, "height": 31,
                      "layer": [
                        {"data": {"name": "spikelet_lower"}, "mark": {"type": "line", "interpolate": "monotone", "color": "#111"},
                         "encoding": {"x": {"field": "pos", "type": "quantitative", "scale": {"domain": [-18.94, 113.2], "nice": false, "zero": false}, "axis": null},
                           "y": {"field": "stat", "type": "quantitative", "scale": {"domain": [0, 10], "reverse": true, "nice": false, "zero": false}, "axis": {"values": [0, 10], "offset": -90, "title": null}},
                           "strokeWidth": {"field": "curve", "type": "nominal", "scale": {"domain": ["A", "B"], "range": [2.9, 1.1]}, "legend": null}}},
                        {"data": {"name": "thresholds"}, "transform": [{"filter": "datum.panel === 'spikelet_lower'"}], "mark": {"type": "rule", "color": "#111", "strokeWidth": 1.5, "strokeDash": [10, 5]},
                         "encoding": {"x": {"field": "from", "type": "quantitative"}, "x2": {"field": "to"}, "y": {"field": "stat", "type": "quantitative"}}}
                      ]
                    }
                  ],
                  "spacing": 44.7, "bounds": "flush"
                }
              ],
              "spacing": 116, "bounds": "flush"
            }
          ],
          "spacing": 42.5, "bounds": "flush"
        },
        {
          "vconcat": [
            {
              "width": 530, "height": 129.5,
              "layer": [
                {"data": {"name": "grain_wt_upper"}, "mark": {"type": "line", "interpolate": "monotone", "color": "#111"},
                 "encoding": {"x": {"field": "pos", "type": "quantitative", "scale": {"domain": [-6.0, 112.1], "nice": false, "zero": false}, "axis": null},
                   "y": {"field": "stat", "type": "quantitative", "scale": {"domain": [0, 80], "nice": false, "zero": false}, "axis": {"values": [0, 40, 80], "offset": -27, "title": null}},
                   "strokeWidth": {"field": "curve", "type": "nominal", "scale": {"domain": ["A", "B"], "range": [2.9, 1.1]}, "legend": null}}},
                {"data": {"name": "thresholds"}, "transform": [{"filter": "datum.panel === 'grain_wt_upper'"}], "mark": {"type": "rule", "color": "#111", "strokeWidth": 1.5, "strokeDash": [10, 5]},
                 "encoding": {"x": {"field": "from", "type": "quantitative"}, "x2": {"field": "to"}, "y": {"field": "stat", "type": "quantitative"}}},
                {"data": {"values": [{"trait": "Grain wt./ear"}]}, "mark": {"type": "text", "align": "left", "baseline": "alphabetic", "fontSize": 20},
                 "encoding": {"x": {"datum": 5.3, "type": "quantitative"}, "y": {"datum": 71.6, "type": "quantitative"}, "text": {"field": "trait", "type": "nominal"}}}
              ]
            },
            {
              "vconcat": [
                {
                  "width": 530, "height": 34,
                  "layer": [
                    {"data": {"name": "grain_wt_lower"}, "mark": {"type": "line", "interpolate": "monotone", "color": "#111"},
                     "encoding": {"x": {"field": "pos", "type": "quantitative", "scale": {"domain": [-6.0, 112.1], "nice": false, "zero": false}, "axis": null},
                       "y": {"field": "stat", "type": "quantitative", "scale": {"domain": [0, 10], "reverse": true, "nice": false, "zero": false}, "axis": {"values": [0, 10], "offset": -27, "title": null}},
                       "strokeWidth": {"field": "curve", "type": "nominal", "scale": {"domain": ["A", "B"], "range": [2.9, 1.1]}, "legend": null}}},
                    {"data": {"name": "thresholds"}, "transform": [{"filter": "datum.panel === 'grain_wt_lower'"}], "mark": {"type": "rule", "color": "#111", "strokeWidth": 1.5, "strokeDash": [10, 5]},
                     "encoding": {"x": {"field": "from", "type": "quantitative"}, "x2": {"field": "to"}, "y": {"field": "stat", "type": "quantitative"}}}
                  ]
                },
                {
                  "vconcat": [
                    {
                      "width": 530, "height": 57.4,
                      "layer": [
                        {"data": {"name": "tiller_upper"}, "mark": {"type": "line", "interpolate": "monotone", "color": "#111"},
                         "encoding": {"x": {"field": "pos", "type": "quantitative", "scale": {"domain": [-6.0, 112.1], "nice": false, "zero": false}, "axis": null},
                           "y": {"field": "stat", "type": "quantitative", "scale": {"domain": [0, 40], "nice": false, "zero": false}, "axis": {"values": [0, 40], "offset": -27, "title": null}},
                           "strokeWidth": {"field": "curve", "type": "nominal", "scale": {"domain": ["A", "B"], "range": [2.9, 1.1]}, "legend": null}}},
                        {"data": {"name": "thresholds"}, "transform": [{"filter": "datum.panel === 'tiller_upper'"}], "mark": {"type": "rule", "color": "#111", "strokeWidth": 1.5, "strokeDash": [10, 5]},
                         "encoding": {"x": {"field": "from", "type": "quantitative"}, "x2": {"field": "to"}, "y": {"field": "stat", "type": "quantitative"}}},
                        {"data": {"values": [{"trait": "Tiller no./plant"}]}, "mark": {"type": "text", "align": "left", "baseline": "alphabetic", "fontSize": 20},
                         "encoding": {"x": {"datum": 5.3, "type": "quantitative"}, "y": {"datum": 32.5, "type": "quantitative"}, "text": {"field": "trait", "type": "nominal"}}}
                      ]
                    },
                    {
                      "vconcat": [
                        {
                          "width": 530, "height": 34,
                          "layer": [
                            {"data": {"name": "tiller_lower"}, "mark": {"type": "line", "interpolate": "monotone", "color": "#111"},
                             "encoding": {"x": {"field": "pos", "type": "quantitative", "scale": {"domain": [-6.0, 112.1], "nice": false, "zero": false}, "axis": null},
                               "y": {"field": "stat", "type": "quantitative", "scale": {"domain": [0, 10], "reverse": true, "nice": false, "zero": false}, "axis": {"values": [0, 10], "offset": -27, "title": null}},
                               "strokeWidth": {"field": "curve", "type": "nominal", "scale": {"domain": ["A", "B"], "range": [2.9, 1.1]}, "legend": null}}},
                            {"data": {"name": "thresholds"}, "transform": [{"filter": "datum.panel === 'tiller_lower'"}], "mark": {"type": "rule", "color": "#111", "strokeWidth": 1.5, "strokeDash": [10, 5]},
                             "encoding": {"x": {"field": "from", "type": "quantitative"}, "x2": {"field": "to"}, "y": {"field": "stat", "type": "quantitative"}}}
                          ]
                        },
                        {
                          "vconcat": [
                            {
                              "width": 530, "height": 126.6,
                              "layer": [
                                {"data": {"name": "grain50_upper"}, "mark": {"type": "line", "interpolate": "monotone", "color": "#111"},
                                 "encoding": {"x": {"field": "pos", "type": "quantitative", "scale": {"domain": [-6.0, 112.1], "nice": false, "zero": false}, "axis": null},
                                   "y": {"field": "stat", "type": "quantitative", "scale": {"domain": [0, 80], "nice": false, "zero": false}, "axis": {"values": [0, 40, 80], "offset": -27, "title": null}},
                                   "strokeWidth": {"field": "curve", "type": "nominal", "scale": {"domain": ["A", "B"], "range": [2.9, 1.1]}, "legend": null}}},
                                {"data": {"name": "thresholds"}, "transform": [{"filter": "datum.panel === 'grain50_upper'"}], "mark": {"type": "rule", "color": "#111", "strokeWidth": 1.5, "strokeDash": [10, 5]},
                                 "encoding": {"x": {"field": "from", "type": "quantitative"}, "x2": {"field": "to"}, "y": {"field": "stat", "type": "quantitative"}}},
                                {"data": {"values": [{"trait": "50-grain weight"}]}, "mark": {"type": "text", "align": "left", "baseline": "alphabetic", "fontSize": 20},
                                 "encoding": {"x": {"datum": 5.6, "type": "quantitative"}, "y": {"datum": 70.3, "type": "quantitative"}, "text": {"field": "trait", "type": "nominal"}}}
                              ]
                            },
                            {
                              "width": 530, "height": 33.3,
                              "layer": [
                                {"data": {"name": "grain50_lower"}, "mark": {"type": "line", "interpolate": "monotone", "color": "#111"},
                                 "encoding": {"x": {"field": "pos", "type": "quantitative", "scale": {"domain": [-6.0, 112.1], "nice": false, "zero": false}, "axis": null},
                                   "y": {"field": "stat", "type": "quantitative", "scale": {"domain": [0, 10], "reverse": true, "nice": false, "zero": false}, "axis": {"values": [0, 10], "offset": -27, "title": null}},
                                   "strokeWidth": {"field": "curve", "type": "nominal", "scale": {"domain": ["A", "B"], "range": [2.9, 1.1]}, "legend": null}}},
                                {"data": {"name": "thresholds"}, "transform": [{"filter": "datum.panel === 'grain50_lower'"}], "mark": {"type": "rule", "color": "#111", "strokeWidth": 1.5, "strokeDash": [10, 5]},
                                 "encoding": {"x": {"field": "from", "type": "quantitative"}, "x2": {"field": "to"}, "y": {"field": "stat", "type": "quantitative"}}}
                              ]
                            }
                          ],
                          "spacing": 44.7, "bounds": "flush"
                        }
                      ],
                      "spacing": 53.7, "bounds": "flush"
                    }
                  ],
                  "spacing": 43.3, "bounds": "flush"
                }
              ],
              "spacing": 66.3, "bounds": "flush"
            }
          ],
          "spacing": 40, "bounds": "flush"
        }
      ],
      "spacing": 631, "bounds": "flush"
    }
  ],
  "spacing": 229.5,
  "bounds": "flush"
}
